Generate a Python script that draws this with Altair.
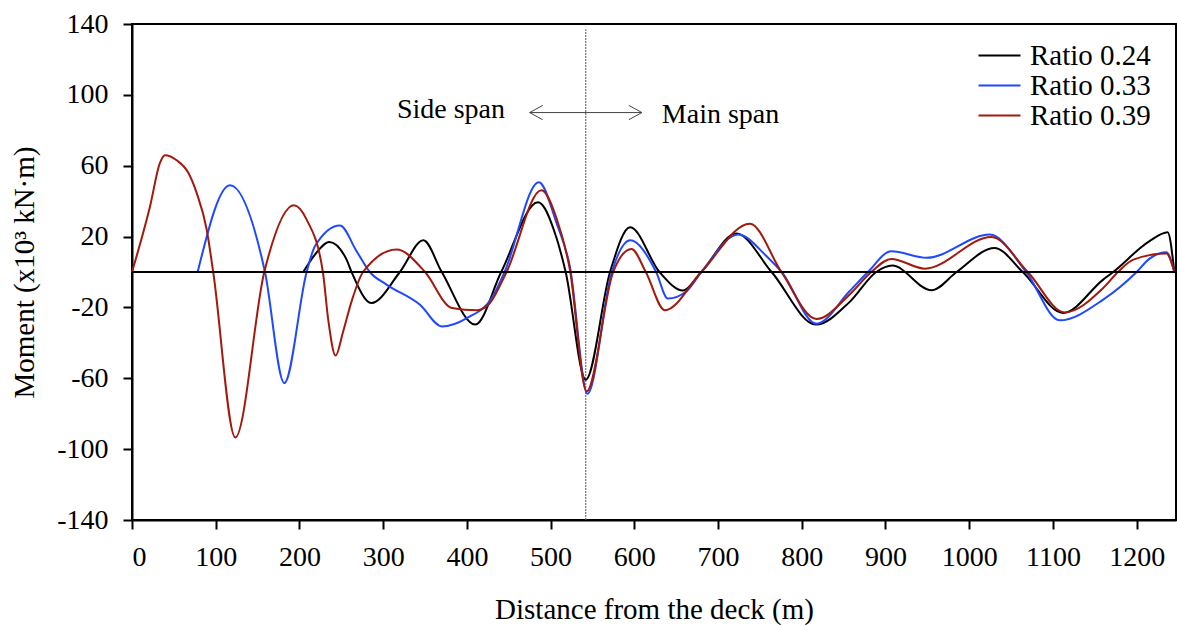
import altair as alt
import pandas as pd

# ---- data ----
x_024 = [204.6, 218.5, 235.6, 256.3, 262.3, 286, 320, 348, 370, 410, 441, 485, 507, 518, 542, 571, 595, 630, 658,
         680, 722, 764, 817, 857, 889, 908, 955, 985, 1030, 1064, 1112, 1160, 1172, 1215, 1237, 1245]
y_024 = [0, 9.8, 17, 7, 0, -17.5, 0, 17.9, 0, -29.7, 0, 39.4, 19.3, 0, -60.8, 0, 25.3, 0, -10.5,
         0, 21.7, 0, -29.7, -17, 0, 3.6, -10.3, 0, 13.6, 0, -23.1, -4.3, 0, 17.3, 22.4, 0]

x_033 = [78.4, 117, 158.8, 181.9, 208.6, 218.5, 248.4, 268.3, 284, 304, 344, 370, 400, 431, 445, 486, 507, 523,
         544, 573, 595, 626, 640, 662, 680, 724, 758, 776, 817.5, 857, 879, 907, 949, 1024.5, 1068, 1108, 1160,
         1200, 1215, 1235.5, 1245]
y_033 = [0, 49, 0, -62.7, 0, 14.5, 26.2, 11.7, 0, -7.1, -18.5, -30.7, -26, -13.7, 0, 50.7, 27.7, 3.2,
         -68.7, 0, 17.9, 0, -15, -11, 0, 21.1, 8.9, 0, -29.2, -10.9, 0, 11.7, 8, 21.1, 0, -27.3, -15.6,
         0, 7.4, 11.1, 0]

x_039 = [0, 21.5, 33.4, 39.4, 53.3, 67.3, 77.2, 89.2, 97, 123.4, 158, 193.4, 208.6, 228, 234.4, 243.2, 252, 262,
         276, 316, 350, 382, 412, 427.5, 447.4, 489, 507, 523, 543, 574.7, 596.6, 613.7, 636.4, 680, 738, 775.7,
         817.5, 857, 883, 907, 947, 1026.5, 1070, 1114, 1160, 1177.7, 1196, 1235.5, 1245]
y_039 = [0, 37, 61.6, 65.9, 63.1, 56, 44.7, 24, 0, -93.4, 0, 37.7, 29.6, 0, -27, -47.2, -34, -17,
         0, 12.7, 0, -20.3, -21.6, -17.5, 0, 46.2, 30.5, 1.4, -67.4, 0, 13, 0, -21.6, 0, 27.3, 0,
         -26.5, -12.8, 0, 7.4, 1.9, 19.8, 0, -22.8, -9, 0, 7, 10.4, 0]

series_names = ["Ratio 0.24", "Ratio 0.33", "Ratio 0.39"]
series_colors = ["#000000", "#1f48ff", "#a3190d"]

ann_text = ["Side span", "Main span"]
ann_x = [381, 703]
ann_y = [87, 84.2]

arrow_y = 90
arrow_x_left = 475
arrow_x_right = 609
divider_x = 542

x_ticks = list(range(0, 1300, 100))
y_ticks = [-140, -100, -60, -20, 20, 60, 100, 140]

# ---- tables ----
rows = []
for name, xs, ys in zip(series_names, [x_024, x_033, x_039], [y_024, y_033, y_039]):
    for i, (a, b) in enumerate(zip(xs, ys)):
        rows.append({"series": name, "x": a, "y": b, "order": i})
df = pd.DataFrame(rows)

FONT = "Liberation Serif"
xscale = alt.Scale(domain=[0, 1247], nice=False, zero=False)
yscale = alt.Scale(domain=[-140, 140], nice=False)

base = alt.Chart(df)

lines = base.mark_line(interpolate="monotone", strokeWidth=2).encode(
    x=alt.X("x:Q", scale=xscale,
            axis=alt.Axis(values=x_ticks, title="Distance from the deck (m)", titleY=98,
                          labelExpr="'' + datum.value",
                          titleBaseline="alphabetic", labelBaseline="alphabetic", labelPadding=36)),
    y=alt.Y("y:Q", scale=yscale,
            axis=alt.Axis(values=y_ticks, title="Moment (x10³ kN·m)", titleX=-99, titleAngle=270,
                          labelExpr="'' + datum.value",
                          titleBaseline="alphabetic", labelPadding=15)),
    color=alt.Color("series:N",
                    scale=alt.Scale(domain=series_names, range=series_colors),
                    legend=alt.Legend(title=None, orient="none", legendX=853, legendY=17,
                                      symbolType="M -3 0 L 3 0", symbolSize=196, symbolStrokeWidth=2,
                                      labelFont=FONT, labelFontSize=29, labelColor="black",
                                      labelOffset=16, rowPadding=0, padding=0)),
    order="order:Q",
)

zero_df = pd.DataFrame({"y": [0]})
zero_line = alt.Chart(zero_df).mark_rule(color="black", strokeWidth=2).encode(y=alt.Y("y:Q", scale=yscale))

div_df = pd.DataFrame({"x": [divider_x], "y": [-140], "y2": [137]})
divider = alt.Chart(div_df).mark_rule(color="#555555", strokeWidth=1, strokeDash=[2, 1]).encode(
    x=alt.X("x:Q", scale=xscale), y=alt.Y("y:Q", scale=yscale), y2="y2:Q")

arr_df = pd.DataFrame({"x": [arrow_x_left], "x2": [arrow_x_right], "y": [arrow_y]})
arrow_shaft = alt.Chart(arr_df).mark_rule(color="#444444", strokeWidth=1).encode(
    x=alt.X("x:Q", scale=xscale), x2="x2:Q", y=alt.Y("y:Q", scale=yscale))
head_l = alt.Chart(pd.DataFrame({"x": [arrow_x_left], "y": [arrow_y]})).mark_point(
    shape="M 1 -0.55 L 0 0 L 1 0.55", size=676, filled=False, color="#444444", strokeWidth=1, opacity=1
).encode(x=alt.X("x:Q", scale=xscale), y=alt.Y("y:Q", scale=yscale))
head_r = alt.Chart(pd.DataFrame({"x": [arrow_x_right], "y": [arrow_y]})).mark_point(
    shape="M -1 -0.55 L 0 0 L -1 0.55", size=676, filled=False, color="#444444", strokeWidth=1, opacity=1
).encode(x=alt.X("x:Q", scale=xscale), y=alt.Y("y:Q", scale=yscale))

ann = alt.Chart(pd.DataFrame({"t": ann_text, "x": ann_x, "y": ann_y})).mark_text(
    font=FONT, fontSize=28, color="black", align="center", baseline="alphabetic"
).encode(x=alt.X("x:Q", scale=xscale), y=alt.Y("y:Q", scale=yscale), text="t:N")

chart = alt.layer(divider, lines, zero_line, arrow_shaft, head_l, head_r, ann).properties(
    width=1044, height=496,
    autosize=alt.AutoSizeParams(type="none"),
    padding={"left": 132, "top": 24, "right": 1, "bottom": 105},
).configure_view(stroke="black", strokeWidth=2).configure_axis(
    grid=False, domainColor="black", domainWidth=2, tickColor="black", tickWidth=2, tickSize=9,
    labelFont=FONT, labelFontSize=28, labelColor="black",
    titleFont=FONT, titleFontSize=29, titleFontWeight="normal", titleColor="black",
)

chart.save("out.html", embed_options={"renderer": "svg", "actions": False})
